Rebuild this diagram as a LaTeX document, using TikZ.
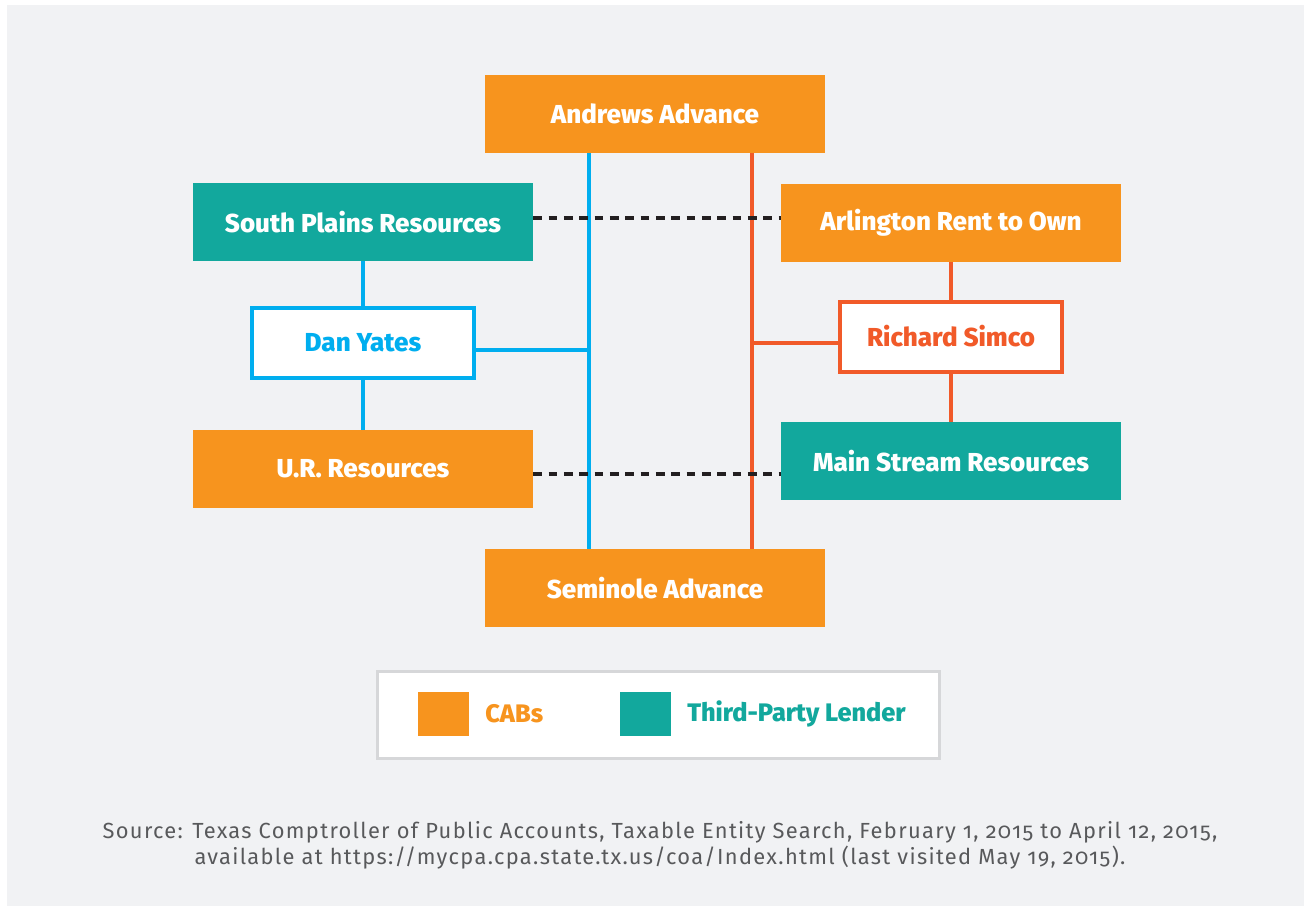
\documentclass[tikz,border=0pt]{standalone}
\usepackage{fontspec}
\setmainfont{Fira Sans}[BoldFont={Fira Sans ExtraBold}]
\usetikzlibrary{positioning}

\definecolor{cabOrange}{RGB}{247,148,30}
\definecolor{lenderTeal}{RGB}{18,168,157}
\definecolor{yatesBlue}{RGB}{0,174,239}
\definecolor{simcoRed}{RGB}{241,90,41}
\definecolor{panelGray}{RGB}{241,242,244}
\definecolor{legendGray}{RGB}{214,215,217}
\definecolor{noteGray}{RGB}{88,89,91}
\definecolor{dashBlack}{RGB}{35,31,32}

\tikzset{
  entity/.style={minimum width=255pt, minimum height=58.5pt, inner sep=0pt, text=white,
    font=\fontsize{19.5}{21}\selectfont\bfseries},
  cab/.style={entity, fill=cabOrange},
  lender/.style={entity, fill=lenderTeal},
  person/.style={minimum width=166.5pt, minimum height=52.5pt, inner sep=0pt, fill=white,
    line width=3pt, font=\fontsize{19.5}{21}\selectfont\bfseries},
  bluelink/.style={color=yatesBlue, line width=2.4pt},
  redlink/.style={color=simcoRed, line width=2.4pt},
  dashlink/.style={color=dashBlack, line width=2.6pt, dash pattern=on 6.5pt off 5pt},
  keybox/.style={minimum width=38.25pt, minimum height=33pt, inner sep=0pt}
}

\begin{document}
\begin{tikzpicture}[x=0.75pt,y=0.75pt,yscale=-1,xscale=1]

\useasboundingbox (0,0) rectangle (1304,906);
%Shape: Background panel
\fill [panelGray] (7,5) rectangle (1304,906) ;

% CAB and lender boxes
\draw (655,114) node [cab] (andrews) {Andrews Advance};
\draw (363,222) node [lender] (southplains) {South Plains Resources};
\draw (951,223) node [cab] (arlington) {Arlington Rent to Own};
\draw (363,469) node [cab] (ur) {U.R. Resources};
\draw (951,461) node [lender] (mainstream) {Main Stream Resources};
\draw (655,588) node [cab] (seminole) {Seminole Advance};

% People
\draw (363,343) node [person, draw=yatesBlue, text=yatesBlue] (yates) {Dan Yates};
\draw (951,336.5) node [person, draw=simcoRed, text=simcoRed] (simco) {Richard Simco};

% Join points on the two trunks
\coordinate (blueJ) at (589,350);
\coordinate (redJ) at (752,343);

%Straight Lines: Dan Yates
\draw [bluelink] (andrews.south -| blueJ) -- (seminole.north -| blueJ) ;
\draw [bluelink] (yates.east |- blueJ) -- (blueJ) ;
\draw [bluelink] (southplains.south) -- (yates.north) ;
\draw [bluelink] (yates.south) -- (ur.north) ;

%Straight Lines: Richard Simco
\draw [redlink] (andrews.south -| redJ) -- (seminole.north -| redJ) ;
\draw [redlink] (simco.west |- redJ) -- (redJ) ;
\draw [redlink] (arlington.south) -- (simco.north) ;
\draw [redlink] (simco.south) -- (mainstream.north) ;

%Dashed Lines
\draw [dashlink] ([yshift=-3pt]southplains.east) -- ([yshift=-3pt]southplains.east -| arlington.west) ;
\draw [dashlink] ([yshift=3.75pt]ur.east) -- ([yshift=3.75pt]ur.east -| mainstream.west) ;

% Legend
\draw (658.5,715) node [draw=legendGray, fill=white, line width=2.25pt, minimum width=421.5pt, minimum height=65.25pt] (legend) {};
\draw (443.5,714) node [keybox, fill=cabOrange] (cabkey) {};
\draw (645.5,714) node [keybox, fill=lenderTeal] (lenderkey) {};
\node [right=8.5pt of cabkey, text=cabOrange, font=\fontsize{19}{21}\selectfont\bfseries] (cablabel) {CABs};
\node [right=8.5pt of lenderkey, text=lenderTeal, font=\fontsize{19}{21}\selectfont\bfseries] (lenderlabel) {Third-Party Lender};

% Text Node
\draw (660,845) node [text=noteGray, align=center, font=\fontsize{16.4}{19.8}\selectfont\addfontfeatures{LetterSpace=6,RawFeature=+onum}] (source) {Source: Texas Comptroller of Public Accounts, Taxable Entity Search, February 1, 2015 to April 12, 2015,\\available at https://mycpa.cpa.state.tx.us/coa/Index.html (last visited May 19, 2015).};

\end{tikzpicture}
\end{document}
